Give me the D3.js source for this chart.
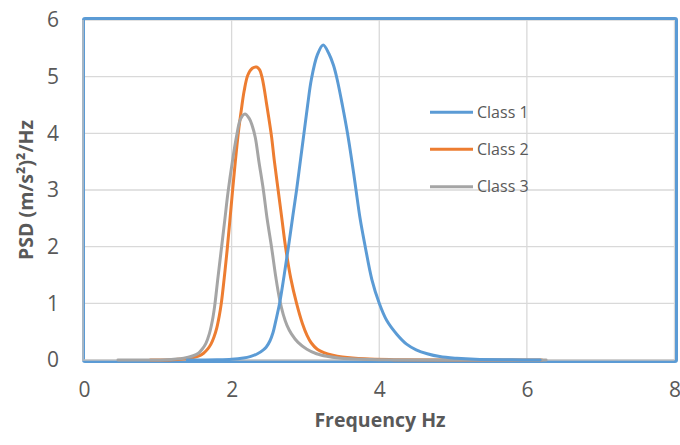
<!DOCTYPE html>
<html><head><meta charset="utf-8">
<script src="https://cdn.jsdelivr.net/npm/d3@7"></script>
<style>body{margin:0;background:#fff}svg{display:block}text{font-family:"Open Sans","Liberation Sans",Arial,sans-serif}</style>
</head><body>
<svg id="c" width="680" height="445"></svg>
<script>
const seriesNames = ["Class 1", "Class 2", "Class 3"];
const seriesColors = ["#5b9bd5", "#ed7d31", "#a5a5a5"];
const xTicks = [0, 2, 4, 6, 8];
const yTicks = [0, 1, 2, 3, 4, 5, 6];

const class1X = [1.40, 1.8, 2.0, 2.16, 2.25, 2.35, 2.43, 2.47, 2.52, 2.56, 2.6, 2.65, 2.71, 2.77, 2.83, 2.88, 2.93, 2.98, 3.03, 3.08, 3.16, 3.24, 3.32, 3.38, 3.43, 3.5, 3.57, 3.63, 3.68, 3.74, 3.81, 3.9, 4.0, 4.1, 4.24, 4.37, 4.5, 4.65, 4.82, 5.05, 5.3, 5.8, 6.18];
const class1Y = [0, 0.003, 0.012, 0.035, 0.06, 0.11, 0.18, 0.23, 0.34, 0.48, 0.7, 1.0, 1.48, 2.0, 2.55, 3.0, 3.5, 4.0, 4.5, 4.95, 5.38, 5.56, 5.4, 5.2, 4.95, 4.5, 4.0, 3.5, 3.05, 2.5, 2.0, 1.42, 1.0, 0.7, 0.45, 0.28, 0.18, 0.11, 0.06, 0.03, 0.012, 0.003, 0];

const class2X = [0.9, 1.2, 1.43, 1.55, 1.62, 1.68, 1.72, 1.76, 1.8, 1.83, 1.86, 1.9, 1.94, 2.01, 2.05, 2.09, 2.13, 2.17, 2.22, 2.28, 2.34, 2.38, 2.41, 2.44, 2.47, 2.5, 2.54, 2.58, 2.63, 2.68, 2.73, 2.8, 2.88, 2.96, 3.02, 3.08, 3.16, 3.25, 3.37, 3.5, 3.8, 4.2, 5.0, 6.2];
const class2Y = [0, 0.005, 0.03, 0.07, 0.12, 0.2, 0.28, 0.4, 0.57, 0.76, 1.0, 1.45, 1.95, 2.95, 3.5, 4.0, 4.4, 4.75, 5.03, 5.15, 5.17, 5.12, 5.0, 4.8, 4.55, 4.3, 3.95, 3.5, 3.0, 2.5, 2.0, 1.45, 1.0, 0.64, 0.44, 0.3, 0.19, 0.13, 0.085, 0.055, 0.02, 0.006, 0.001, 0];

const class3X = [0.46, 1.1, 1.35, 1.47, 1.55, 1.6, 1.65, 1.7, 1.74, 1.77, 1.81, 1.86, 1.91, 1.95, 2.01, 2.07, 2.12, 2.18, 2.24, 2.28, 2.32, 2.37, 2.43, 2.48, 2.54, 2.6, 2.65, 2.7, 2.75, 2.81, 2.9, 3.02, 3.15, 3.29, 3.45, 3.6, 4.0, 5.0, 6.26];
const class3Y = [0, 0.004, 0.03, 0.07, 0.12, 0.19, 0.29, 0.47, 0.7, 0.95, 1.4, 1.95, 2.5, 2.95, 3.5, 3.97, 4.25, 4.34, 4.26, 4.13, 3.93, 3.5, 3.0, 2.5, 2.0, 1.45, 1.07, 0.8, 0.61, 0.46, 0.31, 0.19, 0.11, 0.065, 0.035, 0.02, 0.006, 0.001, 0];

const seriesX = [class1X, class2X, class3X];
const seriesY = [class1Y, class2Y, class3Y];

const svg = d3.select("#c");
const x = d3.scaleLinear().domain([0, 8]).range([84, 674.5]);
const y = d3.scaleLinear().domain([0, 6]).range([360, 20]);
const grid = "#d9d9d9", txt = "#595959";

// gridlines
svg.append("g").selectAll("line").data(yTicks.filter(d => d > 0)).join("line")
  .attr("x1", x(0)).attr("x2", x(8)).attr("y1", d => y(d)).attr("y2", d => y(d))
  .attr("stroke", grid).attr("stroke-width", 1.3);
svg.append("g").selectAll("line").data(xTicks.filter(d => d > 0)).join("line")
  .attr("x1", d => x(d)).attr("x2", d => x(d)).attr("y1", y(0)).attr("y2", y(6))
  .attr("stroke", grid).attr("stroke-width", 1.3);

// plot border
svg.append("rect").attr("x", 83.5).attr("y", 18.5).attr("width", 593).attr("height", 343)
  .attr("fill", "none").attr("stroke", "#5b9bd5").attr("stroke-width", 3).attr("rx", 1.5);

// axis lines
svg.append("line").attr("x1", x(0) - 1).attr("x2", x(0) - 1).attr("y1", y(6)).attr("y2", y(0) + 1)
  .attr("stroke", "#bfbfbf").attr("stroke-width", 1.5);
svg.append("line").attr("x1", x(0)).attr("x2", x(8)).attr("y1", y(0)).attr("y2", y(0))
  .attr("stroke", "#bfbfbf").attr("stroke-width", 1.5);

// curves (orange, gray, then blue on top)
const line = d3.line().x(d => x(d[0])).y(d => Math.min(y(0), y(d[1]))).curve(d3.curveCatmullRom.alpha(0.5));
[1, 2, 0].forEach(i => {
  const pts = seriesX[i].map((v, k) => [v, seriesY[i][k]]);
  svg.append("path").attr("d", line(pts)).attr("fill", "none")
    .attr("stroke", seriesColors[i]).attr("stroke-width", 3)
    .attr("stroke-linejoin", "round").attr("stroke-linecap", "round");
});

// ticks
const yAxis = d3.axisLeft(y).tickValues(yTicks).tickSize(0).tickPadding(0).tickFormat(d3.format("d"));
const gy = svg.append("g").attr("transform", "translate(59,0)").call(yAxis);
gy.select(".domain").remove();
gy.selectAll("text").attr("font-size", 21).attr("fill", txt).attr("font-family", "Open Sans, Liberation Sans, sans-serif");

const xAxis = d3.axisBottom(x).tickValues(xTicks).tickSize(0).tickPadding(0).tickFormat(d3.format("d"));
const gx = svg.append("g").attr("transform", "translate(0,382)").call(xAxis);
gx.select(".domain").remove();
gx.selectAll("text").attr("font-size", 21).attr("fill", txt).attr("font-family", "Open Sans, Liberation Sans, sans-serif");

// axis titles
svg.append("text").attr("x", 380).attr("y", 427).attr("text-anchor", "middle")
  .attr("font-size", 19.5).attr("font-weight", "bold").attr("fill", txt).text("Frequency Hz");
svg.append("text").attr("transform", "translate(33,190) rotate(-90)").attr("text-anchor", "middle")
  .attr("font-size", 19.5).attr("font-weight", "bold").attr("fill", txt).text("PSD (m/s²)²/Hz");

// legend
const legY = [112.3, 149.3, 186.7];
const leg = svg.append("g");
seriesNames.forEach((n, i) => {
  leg.append("line").attr("x1", 430).attr("x2", 473).attr("y1", legY[i]).attr("y2", legY[i])
    .attr("stroke", seriesColors[i]).attr("stroke-width", 3);
  leg.append("text").attr("x", 477).attr("y", legY[i]).attr("dy", "0.35em")
    .attr("font-size", 16).attr("fill", txt).attr("font-family", "Liberation Sans, Arial, sans-serif").text(n);
});
</script>
</body></html>
